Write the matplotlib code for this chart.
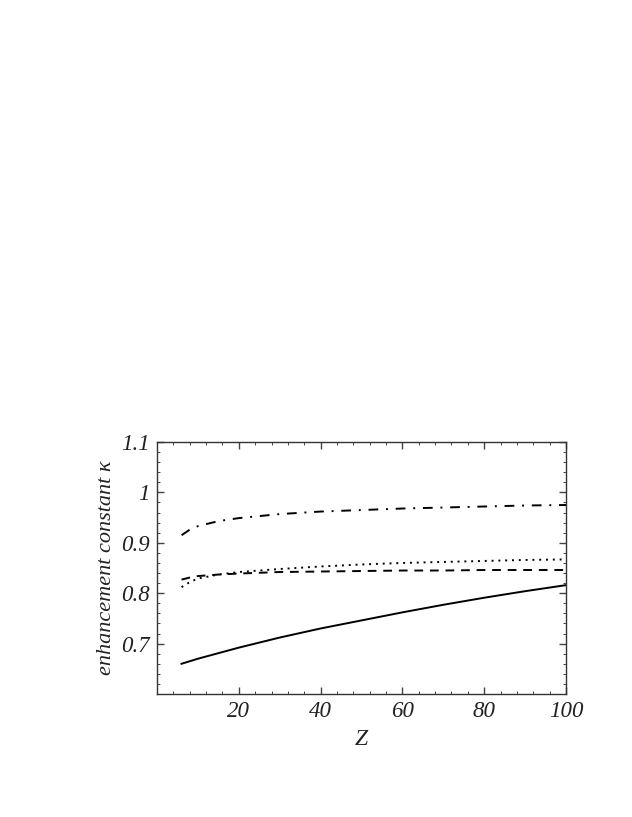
import matplotlib
matplotlib.use("Agg")
import matplotlib.pyplot as plt
from matplotlib.ticker import MultipleLocator, FixedLocator

Z = [6, 8, 10, 15, 20, 30, 40, 50, 60, 70, 80, 90, 100]
kappa_solid = [0.660, 0.665, 0.670, 0.681, 0.692, 0.712, 0.730, 0.746, 0.762, 0.777, 0.791, 0.804, 0.816]
kappa_dashdot = [0.915, 0.926, 0.933, 0.943, 0.949, 0.957, 0.962, 0.965, 0.968, 0.970, 0.972, 0.974, 0.975]
kappa_dotted = [0.812, 0.822, 0.829, 0.837, 0.842, 0.848, 0.853, 0.857, 0.860, 0.862, 0.864, 0.866, 0.867]
kappa_dashed = [0.827, 0.831, 0.834, 0.837, 0.839, 0.842, 0.843, 0.844, 0.845, 0.845, 0.846, 0.846, 0.846]

yticks = [0.7, 0.8, 0.9, 1.0, 1.1]
ytick_labels = ["0.7", "0.8", "0.9", "1", "1.1"]
xticks = [20, 40, 60, 80, 100]

plt.rcParams['font.family'] = ['Liberation Serif', 'DejaVu Serif']
fig = plt.figure(figsize=(6.32, 8.17), dpi=100)
ax = fig.add_axes([157/632, 1-694/817, (566-157)/632, (694-442)/817])

ax.plot(Z, kappa_solid, color='black', lw=1.4, ls='-')
ax.plot(Z, kappa_dashdot, color='black', lw=1.4, ls=(0, (5, 4, 1, 4)))
ax.plot(Z, kappa_dotted, color='black', lw=1.4, ls=(0, (1, 2.5)))
ax.plot(Z, kappa_dashed, color='black', lw=1.4, ls=(0, (4.5, 3.5)))

ax.set_xlim(0, 100)
ax.set_ylim(0.6, 1.1)
ax.xaxis.set_major_locator(FixedLocator(xticks))
ax.xaxis.set_minor_locator(MultipleLocator(4))
ax.yaxis.set_major_locator(FixedLocator(yticks))
ax.yaxis.set_minor_locator(MultipleLocator(0.02))
ax.set_yticklabels(ytick_labels)
ax.set_xticklabels([str(t) for t in xticks])

ax.tick_params(which='both', direction='in', top=True, right=True, color='#444444')
ax.tick_params(which='major', length=5, width=1, labelsize=16.5, pad=5, labelcolor='#222222')
ax.tick_params(which='minor', length=2.5, width=0.7)
for lab in ax.get_xticklabels() + ax.get_yticklabels():
    lab.set_fontstyle('italic')
for s in ax.spines.values():
    s.set_color('#333333')
    s.set_linewidth(1.0)

ax.set_xlabel('Z', fontsize=17, fontstyle='italic', labelpad=5, color='#222222')
ax.set_ylabel('enhancement constant κ', fontsize=16, fontstyle='italic', labelpad=4, color='#222222')

fig.savefig('out.png', dpi=100)
